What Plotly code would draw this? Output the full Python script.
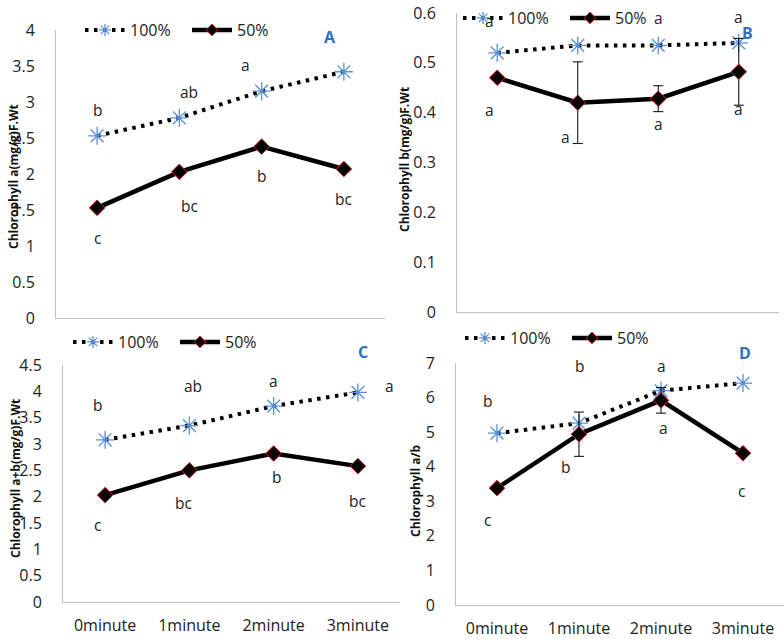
import plotly.graph_objects as go

W, H = 784, 639

categories = ["0minute", "1minute", "2minute", "3minute"]
series_names = ["100%", "50%"]

# Panel A: Chlorophyll a
chl_a_100 = [2.53, 2.78, 3.15, 3.42]
chl_a_50 = [1.53, 2.03, 2.38, 2.07]
# Panel B: Chlorophyll b
chl_b_100 = [0.52, 0.535, 0.535, 0.54]
chl_b_50 = [0.47, 0.42, 0.428, 0.482]
chl_b_50_err = [None, 0.082, 0.026, 0.067]
# Panel C: Chlorophyll a+b
chl_ab_100 = [3.08, 3.35, 3.72, 3.98]
chl_ab_50 = [2.03, 2.50, 2.82, 2.58]
# Panel D: Chlorophyll a/b
ratio_100 = [4.97, 5.26, 6.20, 6.42]
ratio_50 = [3.38, 4.94, 5.92, 4.39]
ratio_50_err = [None, 0.64, 0.37, None]

# significance letters
A_letters_100 = ["b", "ab", "a", "a"]
A_letters_50 = ["c", "bc", "b", "bc"]
B_letters_100 = ["a", None, "a", "a"]
B_letters_50 = ["a", "a", "a", "a"]
C_letters_100 = ["b", "ab", "a", "a"]
C_letters_50 = ["c", "bc", "b", "bc"]
D_letters_100 = ["b", "b", "a", "a"]
D_letters_50 = ["c", "b", "a", "c"]

# letter label positions (data units) and horizontal nudges (px)
A_lab_y_100 = [2.89, 3.14, 3.51, 4.03]
A_lab_dx_100 = [0, 10, -16, -2]
A_lab_y_50 = [1.11, 1.56, 1.97, 1.65]
A_lab_dx_50 = [0, 10, 0, 0]
B_lab_y_100 = [0.584, 0.59, 0.59, 0.592]
B_lab_dx_100 = [-8, 0, 0, 0]
B_lab_y_50 = [0.405, 0.351, 0.377, 0.407]
B_lab_dx_50 = [-8, -12, 0, 0]
C_lab_y_100 = [3.74, 4.10, 4.19, 4.10]
C_lab_dx_100 = [-8, 4, 0, 32]
C_lab_y_50 = [1.46, 1.88, 2.37, 1.92]
C_lab_dx_50 = [-8, -6, 3, 0]
D_lab_y_100 = [5.90, 6.91, 6.91, 7.09]
D_lab_dx_100 = [-10, 0, 0, -2]
D_lab_y_50 = [2.46, 3.99, 5.12, 3.30]
D_lab_dx_50 = [-10, -14, 2, -2]

y_titles = ["Chlorophyll a(mg/g)F.Wt", "Chlorophyll b(mg/g)F.Wt",
            "Chlorophyll a+b(mg/g)F.Wt", "Chlorophyll a/b"]
panel_tags = ["A", "B", "C", "D"]


def px_x(p):
    return p / W


def px_y(p):
    return 1 - p / H


FONT = "Open Sans"
BLUE_STAR = "#5b8fd6"
TAG_BLUE = "#2f6fbf"

panels = [
    dict(v100=chl_a_100, v50=chl_a_50, err=None, yr=[0, 4], dt=0.5,
         xd=[56, 385], yd=[30, 318], tag=(330, 37), ttl=(13, 177),
         leg=(80, 30), let100=A_letters_100, let50=A_letters_50,
         ly100=A_lab_y_100, dx100=A_lab_dx_100, ly50=A_lab_y_50, dx50=A_lab_dx_50,
         showx=False),
    dict(v100=chl_b_100, v50=chl_b_50, err=chl_b_50_err, yr=[0, 0.6], dt=0.1,
         xd=[457, 779], yd=[13, 312], tag=(747, 33), ttl=(404, 159),
         leg=(458, 18), let100=B_letters_100, let50=B_letters_50,
         ly100=B_lab_y_100, dx100=B_lab_dx_100, ly50=B_lab_y_50, dx50=B_lab_dx_50,
         showx=False),
    dict(v100=chl_ab_100, v50=chl_ab_50, err=None, yr=[0, 4.5], dt=0.5,
         xd=[63, 400], yd=[365, 602], tag=(363, 352), ttl=(15, 479),
         leg=(68, 342), let100=C_letters_100, let50=C_letters_50,
         ly100=C_lab_y_100, dx100=C_lab_dx_100, ly50=C_lab_y_50, dx50=C_lab_dx_50,
         showx=True),
    dict(v100=ratio_100, v50=ratio_50, err=ratio_50_err, yr=[0, 7], dt=1,
         xd=[456, 784], yd=[363, 605], tag=(745, 353), ttl=(415, 491),
         leg=(460, 338), let100=D_letters_100, let50=D_letters_50,
         ly100=D_lab_y_100, dx100=D_lab_dx_100, ly50=D_lab_y_50, dx50=D_lab_dx_50,
         showx=True),
]

fig = go.Figure()
layout = dict(
    width=W, height=H,
    margin=dict(l=0, r=0, t=0, b=0),
    paper_bgcolor="white", plot_bgcolor="white",
    showlegend=True,
    font=dict(family=FONT, color="#222222"),
)
annotations = []

line100 = dict(color="black", width=4, dash="3.5px,5.5px")
line50 = dict(color="black", width=4.5)

for i, p in enumerate(panels):
    n = i + 1
    xa = "x" if n == 1 else f"x{n}"
    ya = "y" if n == 1 else f"y{n}"
    leg = "legend" if n == 1 else f"legend{n}"

    fig.add_trace(go.Scatter(
        x=categories, y=p["v100"], name=series_names[0], mode="lines+markers",
        xaxis=xa, yaxis=ya, showlegend=False, cliponaxis=False,
        line=line100,
        marker=dict(symbol="asterisk-open", size=15,
                    line=dict(color=BLUE_STAR, width=1.3), color=BLUE_STAR),
    ))
    err = None
    if p["err"] is not None:
        err = dict(type="data", array=p["err"], visible=True,
                   color="black", thickness=1, width=5)
    fig.add_trace(go.Scatter(
        x=categories, y=p["v50"], name=series_names[1], mode="lines+markers",
        xaxis=xa, yaxis=ya, showlegend=False, cliponaxis=False,
        line=line50,
        marker=dict(symbol="diamond", size=12, color="black",
                    line=dict(color="#d02020", width=1)),
        error_y=err,
    ))
    # legend entries (smaller symbols, as in the reference legend)
    fig.add_trace(go.Scatter(
        x=[None], y=[None], name=series_names[0], mode="lines+markers",
        xaxis=xa, yaxis=ya, legend=leg, showlegend=True,
        line=line100,
        marker=dict(symbol="asterisk-open", size=10,
                    line=dict(color=BLUE_STAR, width=1.3), color=BLUE_STAR),
    ))
    fig.add_trace(go.Scatter(
        x=[None], y=[None], name=series_names[1], mode="lines+markers",
        xaxis=xa, yaxis=ya, legend=leg, showlegend=True,
        line=line50,
        marker=dict(symbol="diamond", size=9, color="black",
                    line=dict(color="#d02020", width=1)),
    ))

    xkey = "xaxis" if n == 1 else f"xaxis{n}"
    ykey = "yaxis" if n == 1 else f"yaxis{n}"
    layout[xkey] = dict(
        domain=[px_x(p["xd"][0]), min(px_x(p["xd"][1]), 1.0)],
        anchor=ya, type="category", range=[-0.5, 3.5],
        showline=True, linecolor="#c0c0c0", linewidth=1,
        showgrid=False, zeroline=False, ticks="",
        showticklabels=p["showx"],
        tickfont=dict(size=16, family=FONT, color="#222222"),
        ticklabelstandoff=9,
        automargin=False,
    )
    layout[ykey] = dict(
        domain=[px_y(p["yd"][1]), px_y(p["yd"][0])],
        anchor=xa, range=p["yr"], dtick=p["dt"], tick0=0,
        showline=True, linecolor="#c0c0c0", linewidth=1,
        showgrid=False, zeroline=False, ticks="",
        tickfont=dict(size=16, family=FONT, color="#222222"),
        ticklabelstandoff=17,
        automargin=False,
    )
    layout[leg] = dict(
        orientation="h", x=px_x(p["leg"][0]), y=px_y(p["leg"][1]),
        xanchor="left", yanchor="middle",
        bgcolor="rgba(0,0,0,0)",
        font=dict(size=16, family=FONT, color="#222222"),
        entrywidth=52, entrywidthmode="pixels",
        itemwidth=40, itemsizing="trace",
    )

    # y-axis title
    ttl = p["ttl"]
    annotations.append(dict(
        text=f"<b>{y_titles[i]}</b>", x=px_x(ttl[0]), y=px_y(ttl[1]),
        xref="paper", yref="paper", xanchor="center", yanchor="middle",
        textangle=-90, showarrow=False,
        font=dict(size=12, family=FONT, color="#111111"),
    ))
    tag = p["tag"]
    annotations.append(dict(
        text=f"<b>{panel_tags[i]}</b>", x=px_x(tag[0]), y=px_y(tag[1]),
        xref="paper", yref="paper", xanchor="center", yanchor="middle",
        showarrow=False,
        font=dict(size=16, family=FONT, color=TAG_BLUE),
    ))
    for letters, ly, dx in ((p["let100"], p["ly100"], p["dx100"]),
                            (p["let50"], p["ly50"], p["dx50"])):
        for c, t, yv, sx in zip(categories, letters, ly, dx):
            if t is None:
                continue
            annotations.append(dict(
                text=t, x=c, y=yv, xref=xa, yref=ya, xshift=sx,
                xanchor="center", yanchor="middle",
                showarrow=False,
                font=dict(size=15.5, family=FONT, color="#222222"),
            ))

layout["annotations"] = annotations
fig.update_layout(**layout)
fig.write_html("out.html", config={"displayModeBar": False},
               post_script="document.body.style.margin='0px';document.body.style.overflow='hidden';")
